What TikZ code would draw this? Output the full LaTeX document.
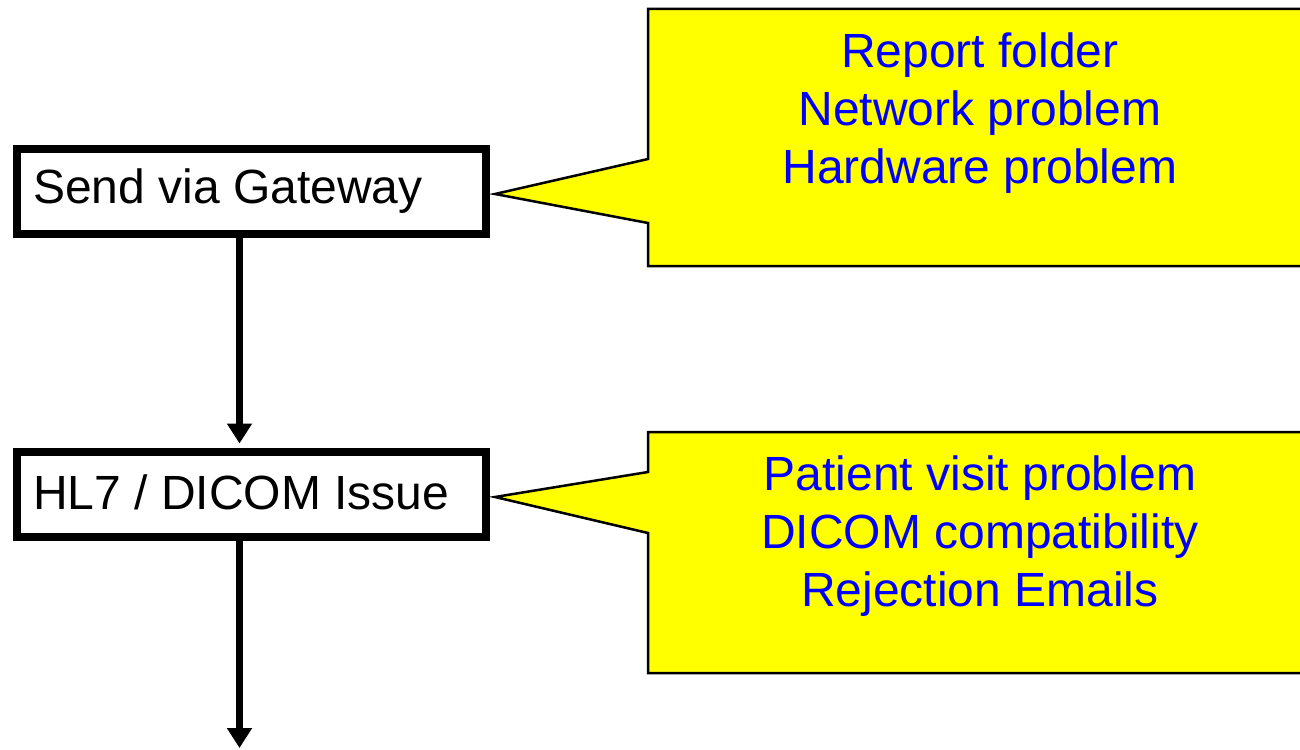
\documentclass[tikz,border=0pt]{standalone}
\usepackage{fontspec}
\setmainfont{Liberation Sans}
\usetikzlibrary{arrows.meta}
\definecolor{calloutyellow}{RGB}{255,255,0}
\definecolor{textblue}{RGB}{0,0,255}
\begin{document}
\begin{tikzpicture}[x=1pt,y=-1pt,
  stepbox/.style={draw=black,line width=8pt,fill=white,rectangle,inner sep=0pt,
    minimum width=469pt,minimum height=85pt,anchor=north west},
  boxtext/.style={anchor=base west,inner sep=0pt,font=\fontsize{48}{55}\selectfont,text=black},
  callout/.style={draw=black,line width=2.5pt,fill=calloutyellow,line join=miter},
  callouttext/.style={anchor=base,inner sep=0pt,font=\fontsize{48}{55}\selectfont,text=textblue},
  arr/.style={line width=7.5pt,-{Triangle[width=24pt,length=20pt]}}]
\useasboundingbox (0,0) rectangle (1300,749);
% flow boxes
\node[stepbox] (b1) at (12.5,145) {};
\node[boxtext] (t1) at (33,203) {Send via Gateway};
\node[stepbox] (b2) at (12.5,447.5) {};
\node[boxtext] (t2) at (33,509) {HL7 / DICOM Issue};
% connectors
\coordinate (endpt) at (239.5,748);
\draw[arr,shorten >=4pt] ([xshift=227pt]b1.south west) -- ([xshift=227pt]b2.north west);
\draw[arr] ([xshift=227pt]b2.south west) -- (endpt);
% callout 1
\draw[callout] (648,9) -- (1314,9) -- (1314,266) -- (648,266) -- (648,223)
  -- (495,194) -- (648,159) -- cycle;
\node[callouttext] (c1a) at (980,68) {Report folder};
\node[callouttext] (c1b) at (980,125.5) {Network problem};
\node[callouttext] (c1c) at (980,183) {Hardware problem};
% callout 2
\draw[callout] (648,432) -- (1314,432) -- (1314,673) -- (648,673) -- (648,533)
  -- (495,497) -- (648,472) -- cycle;
\node[callouttext] (c2a) at (980,490) {Patient visit problem};
\node[callouttext] (c2b) at (980,548) {DICOM compatibility};
\node[callouttext] (c2c) at (980,606) {Rejection Emails};
\end{tikzpicture}
\end{document}
